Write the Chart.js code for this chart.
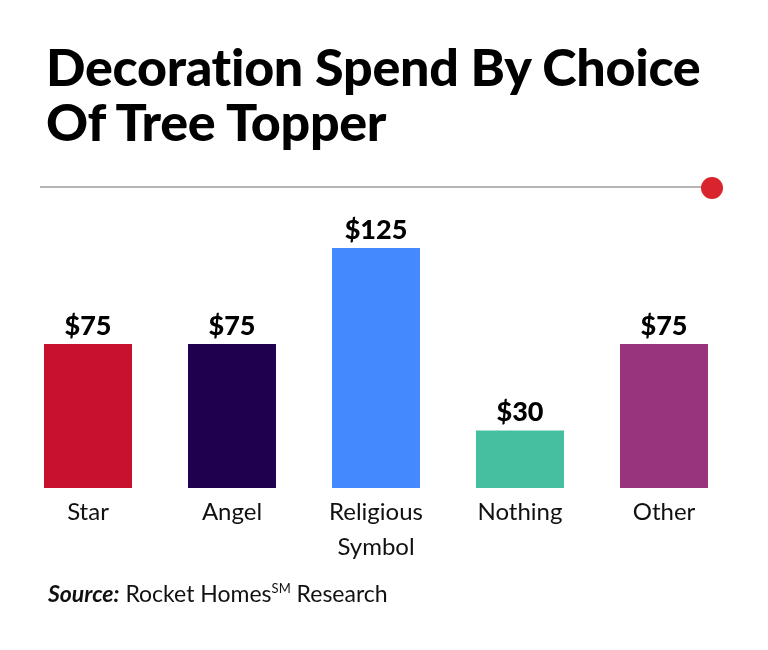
<!DOCTYPE html>
<html>
<head>
<meta charset="utf-8">
<script src="https://cdn.jsdelivr.net/npm/chart.js@4.4.0/dist/chart.umd.min.js"></script>
<style>
  html, body { margin: 0; padding: 0; background: #fff; }
  body { width: 768px; height: 650px; position: relative; overflow: hidden; font-family: Lato, "Noto Sans", sans-serif; }
  #title { position: absolute; left: 46px; top: 39px; margin: 0; font-size: 52px; font-weight: 900; line-height: 55px; color: #000; letter-spacing: -0.3px; }
  #rule { position: absolute; left: 40px; top: 186px; width: 668px; height: 2px; background: #b5b5b5; }
  #dot { position: absolute; left: 701px; top: 177px; width: 22px; height: 22px; border-radius: 50%; background: #d9232e; }
  #source { position: absolute; left: 48px; top: 579px; font-size: 23px; color: #111; }
  #source b { font-style: italic; }
  #source sup { font-size: 13px; vertical-align: 9px; line-height: 0; }
  #wrap { position: absolute; left: 0; top: 0; width: 768px; height: 650px; }
</style>
</head>
<body>
<div id="wrap"><canvas id="chart"></canvas></div>
<h1 id="title">Decoration Spend By Choice<br>Of Tree Topper</h1>
<div id="rule"></div>
<div id="dot"></div>
<div id="source"><b>Source:</b> Rocket Homes<sup>SM</sup> Research</div>
<script>
// chart data
const categories = [['Star'], ['Angel'], ['Religious', 'Symbol'], ['Nothing'], ['Other']];
const spend = [75, 75, 125, 30, 75];
const valueLabels = ['$75', '$75', '$125', '$30', '$75'];
const barColors = ['#c8112e', '#1f004f', '#4589ff', '#45bf9f', '#98347d'];

// draws the dollar value above each bar
const valueLabelPlugin = {
  id: 'valueLabels',
  afterDatasetsDraw(chart) {
    const ctx = chart.ctx;
    const meta = chart.getDatasetMeta(0);
    ctx.save();
    ctx.font = '900 27px Lato, sans-serif';
    ctx.fillStyle = '#000';
    ctx.textAlign = 'center';
    ctx.textBaseline = 'alphabetic';
    meta.data.forEach((bar, i) => {
      ctx.fillText(valueLabels[i], bar.x, bar.y - 9);
    });
    ctx.restore();
  }
};

const ctx = document.getElementById('chart').getContext('2d');
const chart = new Chart(ctx, {
  type: 'bar',
  data: {
    labels: categories,
    datasets: [{
      data: spend,
      backgroundColor: barColors,
      borderWidth: 0,
      barPercentage: 0.611,
      categoryPercentage: 1.0
    }]
  },
  options: {
    responsive: true,
    maintainAspectRatio: false,
    animation: false,
    layout: { padding: { top: 200, left: 16, right: 32, bottom: 72 } },
    plugins: {
      legend: { display: false },
      tooltip: { enabled: false }
    },
    scales: {
      x: {
        grid: { display: false, drawTicks: false },
        border: { display: false },
        ticks: {
          color: '#111',
          padding: 7,
          font: { family: 'Lato, sans-serif', size: 24, lineHeight: 1.46 }
        },
        afterFit(scale) { scale.height = 90; }
      },
      y: {
        display: false,
        min: 0,
        max: 150
      }
    }
  },
  plugins: [valueLabelPlugin]
});
</script>
</body>
</html>
